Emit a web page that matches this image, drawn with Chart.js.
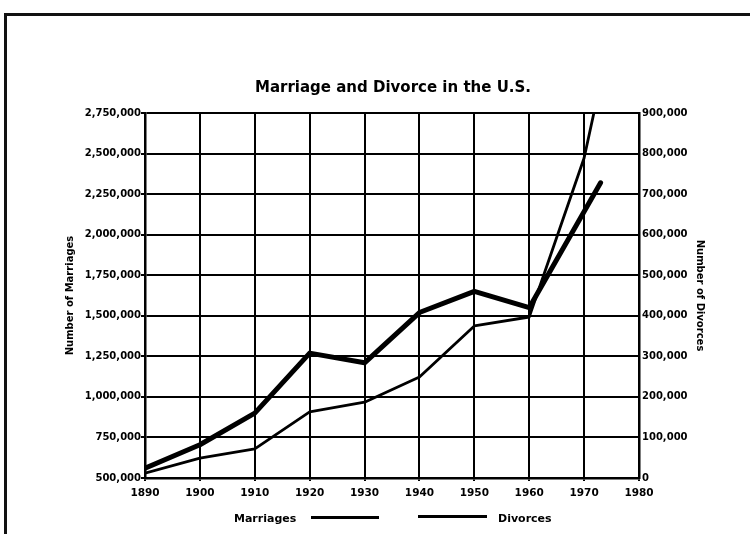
<!DOCTYPE html>
<html>
<head>
<meta charset="utf-8">
<script src="https://cdn.jsdelivr.net/npm/chart.js@4/dist/chart.umd.min.js"></script>
<style>
  html, body { margin: 0; padding: 0; background: #fff; }
  #wrap { position: relative; width: 750px; height: 534px; overflow: hidden; background: #fff; }
  #c { position: absolute; left: 0; top: 0; }
  .frameTop { position: absolute; left: 4px; top: 13px; width: 746px; height: 3px; background: #111; }
  .frameLeft { position: absolute; left: 4px; top: 13px; width: 3px; height: 521px; background: #111; }
  .lg { position: absolute; font-family: "DejaVu Sans", sans-serif; font-weight: bold; font-size: 11px; color: #000; line-height: 14px; }
  .ls { position: absolute; background: #000; }
</style>
</head>
<body>
<div id="wrap">
  <canvas id="c" width="750" height="534"></canvas>
  <div class="frameTop"></div>
  <div class="frameLeft"></div>
  <div class="lg" style="left:234px; top:512px;">Marriages</div>
  <div class="ls" style="left:311px; top:516px; width:68px; height:2.5px;"></div>
  <div class="ls" style="left:418px; top:515px; width:69px; height:3px;"></div>
  <div class="lg" style="left:498px; top:512px;">Divorces</div>
</div>
<script>
// ---- data ----
const titleText = "Marriage and Divorce in the U.S.";
const leftAxisTitle = "Number of Marriages";
const rightAxisTitle = "Number of Divorces";
const legendLabels = ["Marriages", "Divorces"];

const xTicks = [1890, 1900, 1910, 1920, 1930, 1940, 1950, 1960, 1970, 1980];
const leftTicks = [500000, 750000, 1000000, 1250000, 1500000, 1750000, 2000000, 2250000, 2500000, 2750000];
const rightTicks = [0, 100000, 200000, 300000, 400000, 500000, 600000, 700000, 800000, 900000];

const marriageYears = [1890, 1900, 1910, 1920, 1930, 1940, 1950, 1960, 1973];
const marriages = [560000, 705000, 900000, 1270000, 1210000, 1520000, 1650000, 1550000, 2320000];

const divorceYears = [1890, 1900, 1910, 1920, 1930, 1940, 1950, 1960, 1970, 1972.5];
const divorces = [12000, 49000, 72000, 163000, 187000, 249000, 375000, 397000, 789000, 945000];

// ---- chart ----
Chart.defaults.font.family = "'DejaVu Sans', sans-serif";
Chart.defaults.font.weight = 'bold';
Chart.defaults.color = '#000';

const fmt = v => Number(v).toLocaleString('en-US');

new Chart(document.getElementById('c'), {
  type: 'line',
  data: {
    datasets: [
      {
        label: legendLabels[0],
        data: marriageYears.map((x, i) => ({ x: x, y: marriages[i] })),
        yAxisID: 'y',
        borderColor: '#000',
        borderWidth: 5,
        pointRadius: 0,
        tension: 0,
        borderJoinStyle: 'round',
        borderCapStyle: 'round'
      },
      {
        label: legendLabels[1],
        data: divorceYears.map((x, i) => ({ x: x, y: divorces[i] })),
        yAxisID: 'y1',
        borderColor: '#000',
        borderWidth: 2.8,
        pointRadius: 0,
        tension: 0,
        borderJoinStyle: 'round',
        borderCapStyle: 'round'
      }
    ]
  },
  options: {
    responsive: false,
    maintainAspectRatio: false,
    animation: false,
    layout: { padding: { left: 36, right: 0, top: 0, bottom: 31 } },
    plugins: {
      legend: { display: false },
      tooltip: { enabled: false },
      title: {
        display: true,
        text: titleText,
        color: '#000',
        font: { size: 15, weight: 'bold' },
        padding: { top: 79, bottom: 16 }
      }
    },
    scales: {
      x: {
        type: 'linear',
        min: 1890,
        max: 1980,
        afterBuildTicks: axis => { axis.ticks = xTicks.map(v => ({ value: v })); },
        afterFit: axis => { axis.height = 25; },
        ticks: { callback: v => String(v), font: { size: 10.5, weight: 'bold' }, padding: 6, maxRotation: 0, autoSkip: false, color: '#000' },
        grid: { color: '#000', lineWidth: 2, tickLength: 3, drawTicks: true },
        border: { display: true, color: '#000', width: 2.5 }
      },
      y: {
        type: 'linear',
        position: 'left',
        min: 500000,
        max: 2750000,
        afterBuildTicks: axis => { axis.ticks = leftTicks.map(v => ({ value: v })); },
        afterFit: axis => { axis.width = 109; },
        ticks: { callback: v => fmt(v), font: { size: 10, weight: 'bold' }, padding: 0, autoSkip: false, color: '#000' },
        grid: { color: '#000', lineWidth: 2, tickLength: 4, drawTicks: true },
        border: { display: true, color: '#000', width: 2.5 },
        title: { display: true, text: leftAxisTitle, color: '#000', font: { size: 10, weight: 'bold' }, padding: { top: 28, bottom: 0 } }
      },
      y1: {
        type: 'linear',
        position: 'right',
        min: 0,
        max: 900000,
        afterBuildTicks: axis => { axis.ticks = rightTicks.map(v => ({ value: v })); },
        afterFit: axis => { axis.width = 111; },
        ticks: { callback: v => fmt(v), font: { size: 10, weight: 'bold' }, padding: 3, autoSkip: false, color: '#000' },
        grid: { display: false, drawTicks: false, drawOnChartArea: false },
        border: { display: true, color: '#000', width: 2.5 },
        title: { display: true, text: rightAxisTitle, color: '#000', font: { size: 10, weight: 'bold' }, padding: { top: 44, bottom: 0 } }
      }
    }
  }
});
</script>
</body>
</html>
